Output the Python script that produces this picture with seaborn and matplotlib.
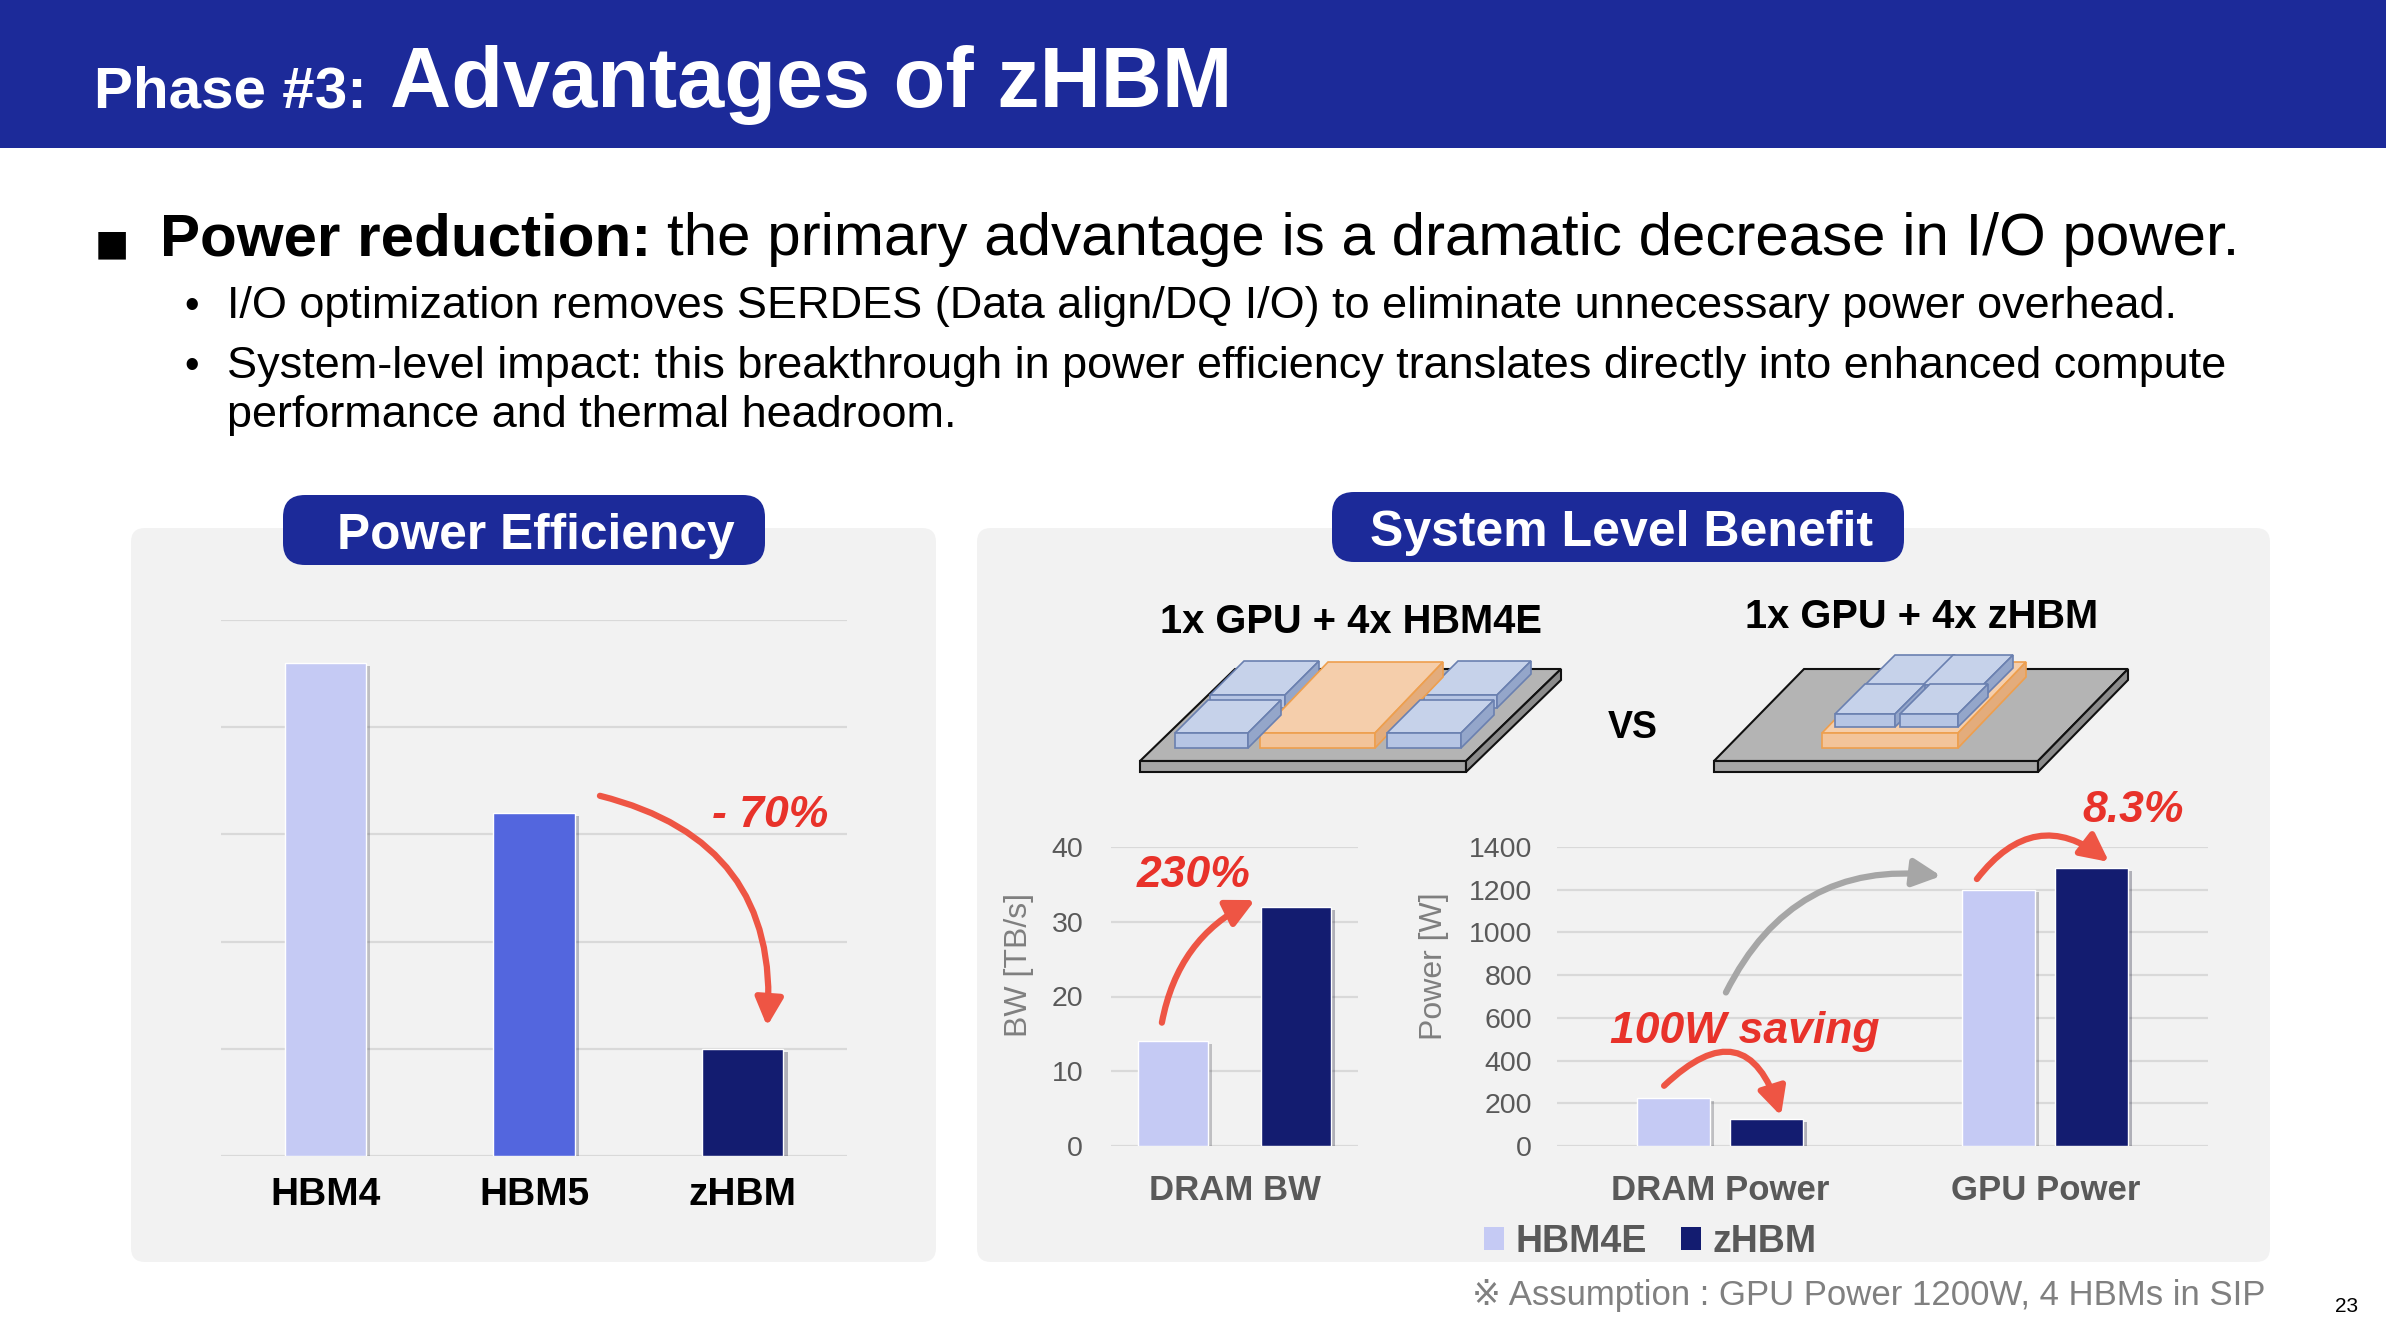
import matplotlib
matplotlib.use('Agg')
import matplotlib.pyplot as plt
import matplotlib.patheffects as pe
from matplotlib.patches import FancyBboxPatch, Rectangle, Polygon, Patch
import pandas as pd
import seaborn as sns

# power efficiency chart (relative units, no y labels on the slide)
eff_labels = ['HBM4', 'HBM5', 'zHBM']
eff_values = [4.6, 3.2, 1.0]
eff_colors = ['#C5CAF4', '#5366DE', '#131C70']

# system level benefit charts
series = ['HBM4E', 'zHBM']
series_colors = ['#C5CAF4', '#131C70']

bw_categories = ['DRAM BW']
bw_hbm4e = [14]
bw_zhbm = [32]
bw_ticks = [0, 10, 20, 30, 40]

power_categories = ['DRAM Power', 'GPU Power']
power_hbm4e = [225, 1200]
power_zhbm = [125, 1300]
power_ticks = [0, 200, 400, 600, 800, 1000, 1200, 1400]

NAVY = '#1C2A99'
RED = '#E8322A'
ARROW_RED = '#EE5544'
GRAY_TXT = '#595959'
GRID = '#D9D9D9'
PANEL = '#F2F2F2'

W, H = 2386, 1330

sns.set_style('white')
plt.rcParams['font.family'] = ['Liberation Sans', 'DejaVu Sans']
plt.rcParams['text.color'] = 'black'
plt.rcParams['xtick.color'] = 'black'

fig = plt.figure(figsize=(W / 100, H / 100), dpi=100)
fig.patch.set_facecolor('white')


def pixel_layer(z):
    lay = fig.add_axes([0, 0, 1, 1], zorder=z)
    lay.set_xlim(0, W)
    lay.set_ylim(H, 0)
    lay.axis('off')
    lay.patch.set_alpha(0)
    return lay


# background layer and top layer in pixel coordinates (y down)
bg = pixel_layer(0)
top = pixel_layer(5)


def px_axes(x0, y0, x1, y1):
    ax = fig.add_axes([x0 / W, 1 - y1 / H, (x1 - x0) / W, (y1 - y0) / H], zorder=2)
    ax.set_facecolor('none')
    return ax


def box3d(x0, yb, w, h, dx, dy, top_c, front, side, edge, lw=1.2):
    yt = yb - h
    faces = [
        ([(x0, yt), (x0 + w, yt), (x0 + w + dx, yt - dy), (x0 + dx, yt - dy)], top_c),
        ([(x0, yb), (x0 + w, yb), (x0 + w, yt), (x0, yt)], front),
        ([(x0 + w, yb), (x0 + w + dx, yb - dy), (x0 + w + dx, yt - dy), (x0 + w, yt)], side),
    ]
    for pts, c in faces:
        bg.add_patch(Polygon(pts, closed=True, facecolor=c, edgecolor=edge, lw=lw,
                             joinstyle='miter', zorder=3))


def plate(x0, w, dx):
    box3d(x0, 772, w, 11, dx, 92, '#B4B4B4', '#A6A6A6', '#8C8C8C', '#111111', lw=1.5)


def hbm(x0, yb, w, h, d):
    box3d(x0, yb, w, h, d, d, '#C6D2EA', '#B6C5E4', '#94A6CA', '#6A80B0')


def gpu(x0, w):
    box3d(x0, 748, w, 15, 68, 71, '#F5CEAB', '#F3C49A', '#E3AC7C', '#EE9F4E')


# header band
bg.add_patch(Rectangle((0, 0), W, 148, facecolor=NAVY, edgecolor='none'))
bg.text(94, 107, 'Phase #3:', color='white', fontsize=42, fontweight='bold', va='baseline')
bg.text(390, 107, 'Advantages of zHBM', color='white', fontsize=61, fontweight='bold', va='baseline')

# bullets
bg.text(95, 254, '\u25A0', fontsize=26, va='baseline', family=['DejaVu Sans'])
t_bold = bg.text(160, 255, 'Power reduction:', fontsize=43.3, fontweight='bold', va='baseline')
renderer = fig.canvas.get_renderer()
bx = t_bold.get_window_extent(renderer).x1
bg.text(bx + 16, 255, 'the primary advantage is a dramatic decrease in I/O power.',
        fontsize=43.3, va='baseline')
sub_lines = [
    ('\u2022', 'I/O optimization removes SERDES (Data align/DQ I/O) to eliminate unnecessary power overhead.', 318),
    ('\u2022', 'System-level impact: this breakthrough in power efficiency translates directly into enhanced compute', 378),
    ('', 'performance and thermal headroom.', 427),
]
for mark, txt, yb in sub_lines:
    if mark:
        bg.text(184, yb, mark, fontsize=30, va='baseline')
    bg.text(227, yb, txt, fontsize=32.4, va='baseline')

# panels and pills
bg.add_patch(FancyBboxPatch((131, 528), 805, 734, boxstyle='round,pad=0,rounding_size=14',
                            facecolor=PANEL, edgecolor='none', zorder=1))
bg.add_patch(FancyBboxPatch((977, 528), 1293, 734, boxstyle='round,pad=0,rounding_size=14',
                            facecolor=PANEL, edgecolor='none', zorder=1))
bg.add_patch(FancyBboxPatch((283, 495), 482, 70, boxstyle='round,pad=0,rounding_size=22',
                            facecolor=NAVY, edgecolor='none', zorder=2))
bg.add_patch(FancyBboxPatch((1332, 492), 572, 70, boxstyle='round,pad=0,rounding_size=22',
                            facecolor=NAVY, edgecolor='none', zorder=2))
bg.text(536, 549, 'Power Efficiency', color='white', fontsize=35.7, fontweight='bold',
        ha='center', va='baseline', zorder=3)
bg.text(1621, 546, 'System Level Benefit', color='white', fontsize=36, fontweight='bold',
        ha='center', va='baseline', zorder=3)

# chip illustrations
bg.text(1351, 633, '1x GPU + 4x HBM4E', fontsize=28.7, fontweight='bold', ha='center', va='baseline')
bg.text(1922, 628, '1x GPU + 4x zHBM', fontsize=28.7, fontweight='bold', ha='center', va='baseline')
bg.text(1633, 738, 'VS', fontsize=27, fontweight='bold', ha='center', va='baseline')

plate(1140, 326, 95)
hbm(1210, 708, 75, 13, 34)
hbm(1424, 708, 73, 13, 34)
gpu(1260, 115)
hbm(1175, 748, 73, 15, 33)
hbm(1387, 748, 74, 15, 33)

plate(1714, 324, 90)
gpu(1822, 136)
hbm(1865, 698, 60, 13, 30)
hbm(1923, 698, 60, 13, 30)
hbm(1835, 727, 60, 13, 30)
hbm(1900, 727, 58, 13, 30)

shadow = [pe.SimplePatchShadow(offset=(3, -2), alpha=0.28), pe.Normal()]

# ---- power efficiency chart
ax1 = px_axes(221, 620, 847, 1156)
sns.barplot(x=eff_labels, y=eff_values, hue=eff_labels, palette=eff_colors, width=0.39,
            saturation=1, legend=False, errorbar=None, ax=ax1, zorder=3)
ax1.set_xlim(-0.5, 2.5)
ax1.set_ylim(0, 5)
ax1.set_yticks(range(6))
ax1.set_yticklabels([])
ax1.yaxis.grid(True, color=GRID, lw=1.6)
ax1.set_axisbelow(True)
ax1.tick_params(axis='both', length=0)
ax1.tick_params(axis='x', pad=15, labelsize=28, labelcolor='black')
for lab in ax1.get_xticklabels():
    lab.set_fontweight('bold')
ax1.set_xlabel('')
ax1.set_ylabel('')
sns.despine(ax=ax1, left=True, bottom=True)
for p in ax1.patches:
    p.set_path_effects(shadow)
ax1.annotate('', xy=(2.117, 1.21), xytext=(1.316, 3.36), annotation_clip=False,
             arrowprops=dict(arrowstyle='-|>,head_length=1.2,head_width=0.6', mutation_scale=14,
                             connectionstyle='arc3,rad=-0.42', color=ARROW_RED, lw=4.5,
                             shrinkA=0, shrinkB=0))

# ---- DRAM bandwidth chart
bw_df = pd.DataFrame({
    'category': bw_categories * 2,
    'series': [series[0]] * len(bw_categories) + [series[1]] * len(bw_categories),
    'value': bw_hbm4e + bw_zhbm,
})
ax2 = px_axes(1111, 847, 1358, 1146)
sns.barplot(data=bw_df, x='category', y='value', hue='series', hue_order=series,
            palette=series_colors, width=0.996, gap=0.43, saturation=1, legend=False,
            errorbar=None, ax=ax2, zorder=3)
ax2.set_xlim(-0.5, 0.5)
ax2.set_ylim(0, 40)
ax2.set_yticks(bw_ticks)

# ---- power chart
power_df = pd.DataFrame({
    'category': power_categories * 2,
    'series': [series[0]] * len(power_categories) + [series[1]] * len(power_categories),
    'value': power_hbm4e + power_zhbm,
})
ax3 = px_axes(1557, 847, 2208, 1146)
sns.barplot(data=power_df, x='category', y='value', hue='series', hue_order=series,
            palette=series_colors, width=0.57, gap=0.215, saturation=1, legend=False,
            errorbar=None, ax=ax3, zorder=3)
ax3.set_xlim(-0.5, 1.5)
ax3.set_ylim(0, 1400)
ax3.set_yticks(power_ticks)

for ax, ypad, lab, lx, ly in [(ax2, 20, 'BW [TB/s]', -0.372, 0.605),
                              (ax3, 18, 'Power [W]', -0.189, 0.602)]:
    ax.yaxis.grid(True, color=GRID, lw=1.6)
    ax.set_axisbelow(True)
    ax.tick_params(axis='both', length=0, colors=GRAY_TXT)
    ax.tick_params(axis='y', pad=ypad, labelsize=20.5)
    ax.tick_params(axis='x', pad=20, labelsize=25)
    for t in ax.get_xticklabels():
        t.set_fontweight('bold')
    ax.set_xlabel('')
    ax.set_ylabel(lab, fontsize=23, color='#7F7F7F')
    ax.yaxis.label.set_va('center')
    ax.yaxis.set_label_coords(lx, ly)
    sns.despine(ax=ax, left=True, bottom=True)
    for p in ax.patches:
        p.set_path_effects(shadow)

arrow_style = '-|>,head_length=1.2,head_width=0.6'
ax2.annotate('', xy=(0.083, 32.9), xytext=(-0.294, 16.5), annotation_clip=False,
             arrowprops=dict(arrowstyle=arrow_style, mutation_scale=14,
                             connectionstyle='arc3,rad=-0.25', color=ARROW_RED, lw=4.5,
                             shrinkA=0, shrinkB=0))
ax3.annotate('', xy=(0.188, 141), xytext=(-0.171, 282), annotation_clip=False,
             arrowprops=dict(arrowstyle=arrow_style, mutation_scale=14,
                             connectionstyle='arc3,rad=-0.8', color=ARROW_RED, lw=4.5,
                             shrinkA=0, shrinkB=0))
ax3.annotate('', xy=(0.680, 1264), xytext=(0.019, 719), annotation_clip=False,
             arrowprops=dict(arrowstyle=arrow_style, mutation_scale=14,
                             connectionstyle='arc3,rad=-0.35', color='#A6A6A6', lw=4.5,
                             shrinkA=0, shrinkB=0))
ax3.annotate('', xy=(1.196, 1330), xytext=(0.790, 1250), annotation_clip=False,
             arrowprops=dict(arrowstyle=arrow_style, mutation_scale=14,
                             connectionstyle='arc3,rad=-0.5', color=ARROW_RED, lw=4.5,
                             shrinkA=0, shrinkB=0))

ann_kw = dict(color=RED, fontweight='bold', fontstyle='italic', ha='center', va='baseline')
top.text(770, 827, '- 70%', fontsize=32, **ann_kw)
top.text(1194, 887, '230%', fontsize=32, **ann_kw)
top.text(1745, 1043, '100W saving', fontsize=32, **ann_kw)
top.text(2133, 822, '8.3%', fontsize=32, **ann_kw)

# legend
handles = [Patch(facecolor=c, edgecolor='none') for c in series_colors]
fig.legend(handles, series, loc='center', bbox_to_anchor=(1650 / W, 1 - 1242 / H), ncol=2,
           frameon=False, prop={'weight': 'bold', 'size': 27}, labelcolor=GRAY_TXT,
           handlelength=0.55, handleheight=0.55, handletextpad=0.3, columnspacing=0.9)

# footnote and page number
bg.text(2265, 1305, '\u203B Assumption : GPU Power 1200W, 4 HBMs in SIP', fontsize=25,
        color='#808080', ha='right', va='baseline')
bg.text(2358, 1312, '23', fontsize=15, ha='right', va='baseline')

fig.savefig('out.png', dpi=100)
